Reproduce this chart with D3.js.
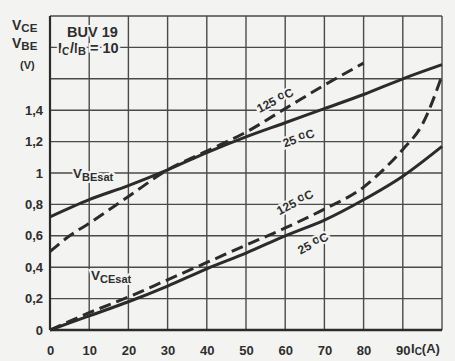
<!DOCTYPE html>
<html><head><meta charset="utf-8">
<script src="https://cdn.jsdelivr.net/npm/d3@7/dist/d3.min.js"></script>
<style>
html,body{margin:0;padding:0;background:#f3f3f1;}
svg{display:block;}
text{font-family:"Liberation Sans",Arial,sans-serif;font-weight:bold;fill:#2e2e2e;}
</style></head><body>
<svg id="c" width="455" height="361"></svg>
<script>
// ---- data ----
const xGrid = [0,10,20,30,40,50,60,70,80,90,100];
const xTickLabels = ["0","10","20","30","40","50","60","70","80","90"];
const xTickValues = [0,10,20,30,40,50,60,70,80,90];
const yGrid = [0,0.2,0.4,0.6,0.8,1,1.2,1.4,1.6,1.8,2];
const yTickValues = [0,0.2,0.4,0.6,0.8,1,1.2,1.4];
const yTickLabels = ["0","0,2","0,4","0,6","0,8","1","1,2","1,4"];

const vbe25_ic = [0,10,20,30,40,50,60,70,80,90,100];
const vbe25_v  = [0.72,0.83,0.92,1.02,1.13,1.23,1.32,1.41,1.50,1.60,1.69];
const vbe125_ic = [0,5,10,20,30,40,50,60,70,80];
const vbe125_v  = [0.50,0.60,0.68,0.85,1.02,1.14,1.26,1.41,1.56,1.70];
const vce25_ic = [0,10,20,30,40,50,60,70,80,90,100];
const vce25_v  = [0,0.09,0.18,0.28,0.39,0.49,0.60,0.70,0.83,0.98,1.17];
const vce125_ic = [0,10,20,30,40,50,60,70,80,85,90,95,100];
const vce125_v  = [0,0.11,0.21,0.32,0.43,0.54,0.65,0.77,0.91,1.02,1.15,1.31,1.62];

const svg = d3.select("#c");
const x = d3.scaleLinear().domain([0,100]).range([50,442]);
const y = d3.scaleLinear().domain([0,2]).range([330,16]);
const ink = "#2b2b2b";

// grid
const g = svg.append("g");
g.selectAll("line.v").data(xGrid).join("line")
  .attr("x1",d=>x(d)).attr("x2",d=>x(d)).attr("y1",y(0)).attr("y2",y(2))
  .attr("stroke","#4a4a4a").attr("stroke-width",1.4);
g.selectAll("line.h").data(yGrid).join("line")
  .attr("x1",x(0)).attr("x2",x(100)).attr("y1",d=>y(d)).attr("y2",d=>y(d))
  .attr("stroke","#4a4a4a").attr("stroke-width",1.4);
// frame emphasis
svg.append("line").attr("x1",x(0)).attr("x2",x(0)).attr("y1",y(0)).attr("y2",y(2)).attr("stroke",ink).attr("stroke-width",2.2);
svg.append("line").attr("x1",x(0)).attr("x2",x(100)).attr("y1",y(0)).attr("y2",y(0)).attr("stroke",ink).attr("stroke-width",2.4);

// axes labels
const xa = svg.append("g").attr("transform",`translate(0,${y(0)+18})`)
  .call(d3.axisBottom(x).tickValues(xTickValues).tickFormat((d,i)=>xTickLabels[i]).tickSize(0));
xa.select(".domain").remove();
xa.selectAll("text").attr("font-size",13).attr("dy","0.3em").attr("fill","#2e2e2e")
  .style("font-family","'Liberation Sans',Arial,sans-serif").style("font-weight","bold");
const ya = svg.append("g").attr("transform",`translate(43,0)`)
  .call(d3.axisLeft(y).tickValues(yTickValues).tickFormat((d,i)=>yTickLabels[i]).tickSize(0).tickPadding(0));
ya.select(".domain").remove();
ya.selectAll("text").attr("font-size",13).attr("fill","#2e2e2e")
  .style("font-family","'Liberation Sans',Arial,sans-serif").style("font-weight","bold");

// curves
const line = d3.line().x(d=>x(d[0])).y(d=>y(d[1])).curve(d3.curveMonotoneX);
function draw(ic, v, dashed){
  svg.append("path").datum(ic.map((c,i)=>[c,v[i]])).attr("d",line)
    .attr("fill","none").attr("stroke",ink).attr("stroke-width",3)
    .attr("stroke-dasharray",dashed?"12,6":null);
}
draw(vbe25_ic,vbe25_v,false);
draw(vbe125_ic,vbe125_v,true);
draw(vce25_ic,vce25_v,false);
draw(vce125_ic,vce125_v,true);

// text helpers
const bg = "#f3f3f1";
function halo(sel){ return sel.attr("stroke",bg).attr("stroke-width",4).attr("paint-order","stroke"); }

// y axis title
const yt = svg.append("g");
let t = yt.append("text").attr("x",12).attr("y",30).attr("font-size",14);
t.append("tspan").text("V"); t.append("tspan").attr("font-size",11.5).attr("dy",2).text("CE");
t = yt.append("text").attr("x",12).attr("y",48).attr("font-size",14);
t.append("tspan").text("V"); t.append("tspan").attr("font-size",11.5).attr("dy",2).text("BE");
yt.append("text").attr("x",20).attr("y",69).attr("font-size",11).text("(V)");

// header
halo(svg.append("text").attr("x",67).attr("y",37).attr("font-size",14.5).attr("stroke-width",6).text("BUV 19"));
t = halo(svg.append("text").attr("x",58).attr("y",53).attr("font-size",14.5).attr("stroke-width",8));
t.append("tspan").text("I"); t.append("tspan").attr("font-size",11).attr("dy",2).text("C");
t.append("tspan").attr("dy",-2).text("/I"); t.append("tspan").attr("font-size",11).attr("dy",2).text("B");
t.append("tspan").attr("dy",-2).text(" = 10");

// X axis title
t = svg.append("text").attr("x",411).attr("y",353).attr("font-size",13);
t.append("tspan").text("I"); t.append("tspan").attr("font-size",10).attr("dy",2).text("C");
t.append("tspan").attr("dy",-2).text("(A)");

// curve names
t = halo(svg.append("text").attr("x",73).attr("y",178).attr("font-size",13.5).attr("stroke-width",8));
t.append("tspan").text("V"); t.append("tspan").attr("font-size",11).attr("dy",3).text("BEsat");
t = halo(svg.append("text").attr("x",91).attr("y",280).attr("font-size",13.5).attr("stroke-width",6));
t.append("tspan").text("V"); t.append("tspan").attr("font-size",11).attr("dy",3).text("CEsat");

function tempLabel(cx, cy, ang, val){
  const tt = halo(svg.append("text").attr("transform",`translate(${cx},${cy}) rotate(${ang})`)
    .attr("text-anchor","middle").attr("font-size",12).attr("stroke-width",5));
  tt.append("tspan").text(val+" ");
  tt.append("tspan").attr("dy",-2).text("o");
  tt.append("tspan").attr("dy",2).text("C");
}
tempLabel(277,104,-27,"125");
tempLabel(300,142,-20,"25");
tempLabel(297,206,-28,"125");
tempLabel(315,247,-28,"25");
</script></body></html>
